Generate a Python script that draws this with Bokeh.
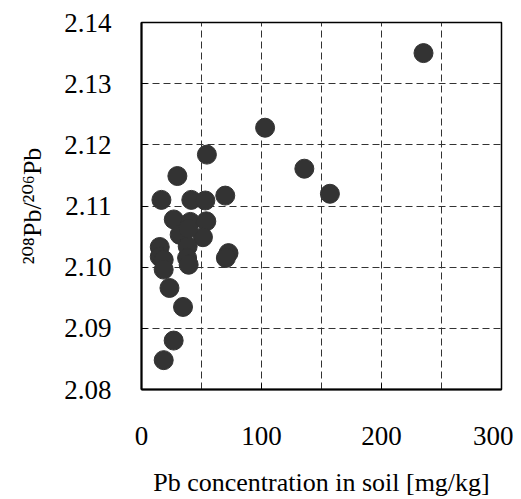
from bokeh.plotting import figure
from bokeh.models import FixedTicker, PrintfTickFormatter, Range1d
from bokeh.embed import file_html
from bokeh.resources import INLINE

# Data
pb_conc = [235, 103, 54.5, 135.7, 157, 29.9, 16.6, 41.5, 53.2, 69.8,
           26.9, 40.7, 54, 31.8, 51.2, 38.5, 15.2, 15.2, 18.5, 38,
           39.3, 18.5, 72.5, 70.3, 23.3, 34.6, 26.8, 18.5, 39.0]
ratio = [2.135, 2.1228, 2.1184, 2.1161, 2.112, 2.1149, 2.111, 2.111, 2.1109, 2.1117,
         2.1078, 2.1074, 2.1075, 2.1053, 2.1049, 2.1034, 2.1033, 2.1017, 2.1012, 2.1015,
         2.1004, 2.0996, 2.1023, 2.1015, 2.0966, 2.0935, 2.088, 2.0848, 2.1063]

x_ticks = [0, 100, 200, 300]
x_grid = [50, 100, 150, 200, 250]
y_ticks = [2.08, 2.09, 2.10, 2.11, 2.12, 2.13, 2.14]

FONT = "'Liberation Serif', 'DejaVu Serif', serif"

p = figure(width=513, height=499, output_backend="svg", toolbar_location=None,
           x_range=Range1d(0, 300), y_range=Range1d(2.08, 2.14),
           min_border_left=141, min_border_right=12, min_border_top=22,
           min_border_bottom=109)

p.scatter(pb_conc, ratio, size=19, color="#333333", line_color="#333333")

p.outline_line_color = "black"
p.outline_line_width = 1.5

for ax in (p.xaxis[0], p.yaxis[0]):
    ax.axis_line_color = "black"
    ax.axis_line_width = 2
    ax.major_tick_out = 0
    ax.major_tick_in = 6
    ax.minor_tick_out = 0
    ax.minor_tick_in = 0
    ax.major_tick_line_color = "black"
    ax.major_label_text_font = FONT
    ax.major_label_text_font_size = "27px"
    ax.major_label_text_color = "black"
    ax.axis_label_text_font = FONT
    ax.axis_label_text_font_size = "26px"
    ax.axis_label_text_font_style = "normal"
    ax.axis_label_text_color = "black"

p.xaxis[0].ticker = FixedTicker(ticks=x_ticks)
p.xaxis[0].major_label_standoff = 37
p.xaxis[0].axis_label = "Pb concentration in soil [mg/kg]"
p.xaxis[0].axis_label_standoff = 20

p.yaxis[0].ticker = FixedTicker(ticks=y_ticks)
p.yaxis[0].formatter = PrintfTickFormatter(format="%.2f")
p.yaxis[0].major_label_standoff = 30
p.yaxis[0].axis_label = "\u00b2\u2070\u2078Pb/\u00b2\u2070\u2076Pb"
p.yaxis[0].axis_label_standoff = 14

p.xgrid.ticker = FixedTicker(ticks=x_grid)
p.ygrid.ticker = FixedTicker(ticks=y_ticks[1:-1])
for g in (p.xgrid[0], p.ygrid[0]):
    g.grid_line_color = "#333333"
    g.grid_line_width = 1
    g.grid_line_dash = "7 4"

p.background_fill_color = "white"
p.border_fill_color = "white"

open("out.html", "w").write(file_html(p, INLINE))
